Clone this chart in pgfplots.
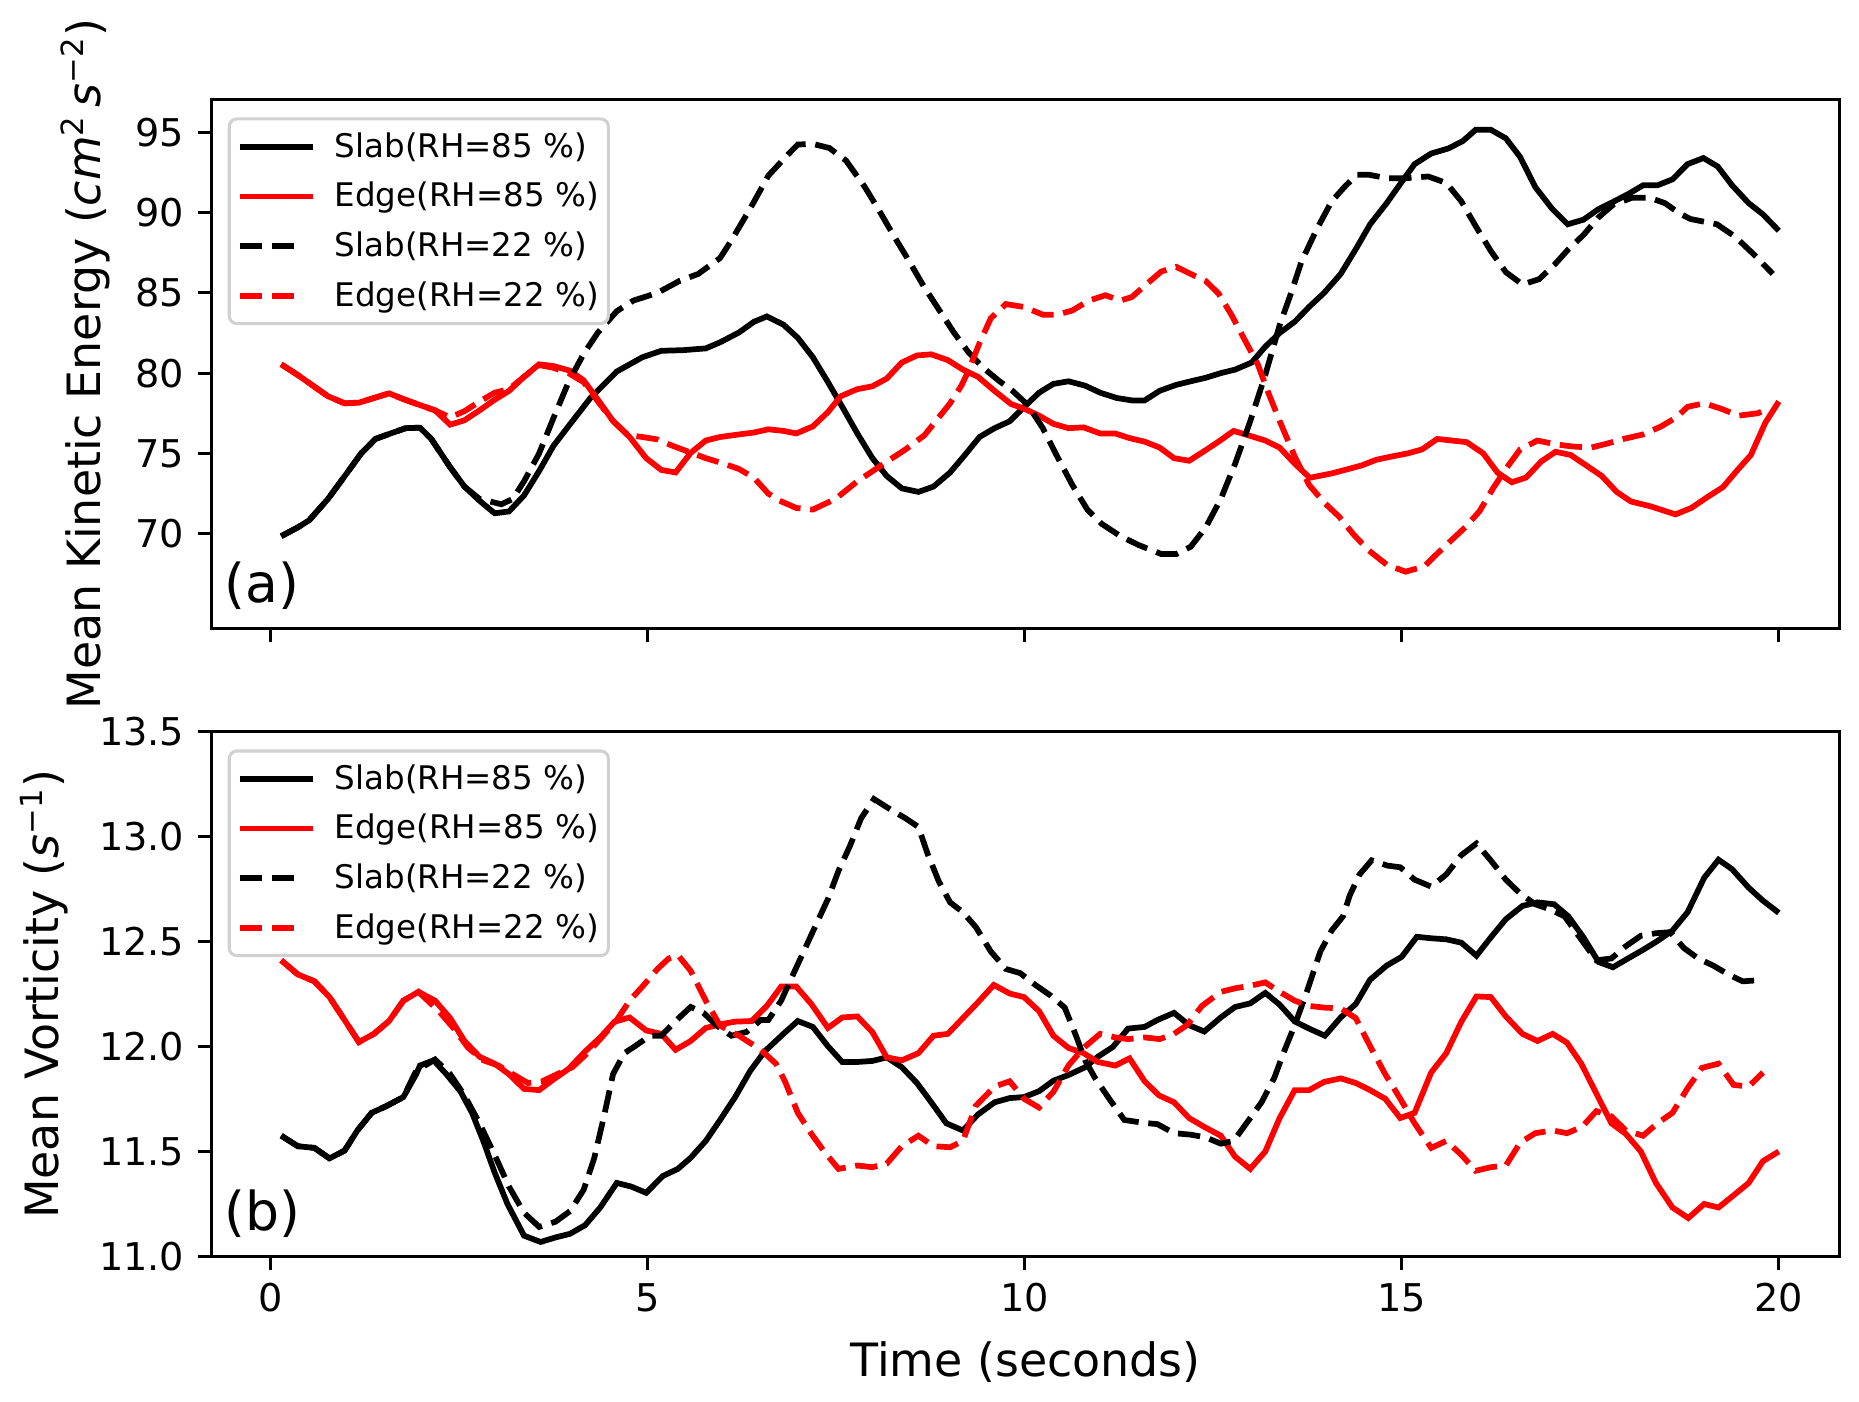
\documentclass[border=0pt]{standalone}
\usepackage{fontspec}
\setmainfont{DejaVu Sans}
\usepackage{pgfplots}
\pgfplotsset{compat=1.18}
\begin{document}
\begin{tikzpicture}
\pgfplotsset{
 common/.style={
  width=425.9pt, scale only axis,
  xmin=-0.79, xmax=20.81,
  xtick={0,5,10,15,20},
  tick align=outside, tick pos=left,
  major tick length=3.5pt,
  every tick/.style={black, line width=0.8pt},
  axis line style={line width=0.8pt},
  tick label style={font=\fontsize{10}{12}\selectfont},
  /pgf/number format/assume math mode=true,
  legend cell align=left,
  legend style={at={(axis description cs:0.0102,0.966)}, anchor=north west, draw=black!18, line width=0.8pt, rounded corners=2pt, fill=white, fill opacity=0.8, text opacity=1, font=\fontsize{8.5}{10}\selectfont, row sep=2.5pt, inner xsep=2pt, inner ysep=2pt,
   nodes={inner xsep=0.5pt, inner ysep=1pt, text height=7pt, text depth=1.5pt}},
  legend image code/.code={\draw[##1] (0pt,0pt) -- (19.1pt,0pt); \path (23.6pt,0pt);},
 },
 lw/.style={line width=1.5pt},
 dsh/.style={line width=1.5pt, dash pattern=on 5.85pt off 2.53pt,
   legend image code/.code={\draw[##1] (0pt,0pt) -- (14.5pt,0pt); \path (23.6pt,0pt);}},
}
\begin{axis}[common, name=top, height=138.3pt, ymin=64.1, ymax=97.05, ytick={70,75,80,85,90,95}, xticklabels={},
 ylabel={Mean Kinetic Energy ({\itshape cm}\textsuperscript{2}\,{\itshape s}\textsuperscript{−2})},
 every axis y label/.style={at={(axis description cs:-0.0771,0.5)}, rotate=90, anchor=center, font=\fontsize{12}{14}\selectfont}]
\addplot[black, lw] coordinates {(0.14,69.84)(0.36,70.39)(0.51,70.83)(0.76,72.16)(1.0,73.7)(1.2,75.0)(1.39,75.9)(1.59,76.24)(1.79,76.57)(1.98,76.6)(2.13,75.9)(2.38,74.14)(2.57,72.93)(2.77,72.05)(2.97,71.27)(3.16,71.38)(3.36,72.38)(3.56,73.9)(3.75,75.47)(4.0,77.0)(4.24,78.45)(4.59,80.1)(4.93,80.99)(5.18,81.39)(5.47,81.43)(5.77,81.54)(5.96,81.92)(6.21,82.53)(6.41,83.2)(6.58,83.53)(6.8,83.02)(6.99,82.2)(7.19,80.99)(7.39,79.44)(7.58,77.9)(7.78,76.24)(7.98,74.7)(8.17,73.59)(8.37,72.82)(8.59,72.6)(8.79,72.93)(9.01,73.81)(9.21,74.92)(9.4,76.02)(9.6,76.57)(9.8,77.0)(9.97,77.79)(10.19,78.78)(10.38,79.33)(10.58,79.49)(10.8,79.22)(11.0,78.78)(11.22,78.45)(11.42,78.3)(11.59,78.3)(11.79,78.9)(12.01,79.27)(12.2,79.49)(12.4,79.71)(12.6,80.0)(12.79,80.22)(13.01,80.66)(13.19,81.65)(13.38,82.5)(13.58,83.2)(13.77,84.12)(13.97,85.0)(14.19,86.18)(14.39,87.72)(14.58,89.27)(14.8,90.59)(15.0,91.92)(15.17,93.02)(15.39,93.68)(15.62,94.0)(15.81,94.46)(15.98,95.16)(16.18,95.16)(16.38,94.63)(16.57,93.46)(16.77,91.59)(16.99,90.26)(17.2,89.27)(17.41,89.56)(17.61,90.22)(17.8,90.66)(18.0,91.15)(18.2,91.7)(18.39,91.7)(18.59,92.07)(18.79,93.02)(19.0,93.4)(19.19,92.87)(19.38,91.7)(19.6,90.59)(19.79,89.89)(20.0,88.87)};
\addlegendentry{Slab(RH=85 \%)}
\addplot[red, lw] coordinates {(0.14,80.55)(0.36,79.88)(0.56,79.22)(0.76,78.56)(0.98,78.12)(1.17,78.16)(1.37,78.45)(1.57,78.74)(1.76,78.38)(1.98,78.01)(2.18,77.68)(2.38,76.79)(2.57,77.06)(2.77,77.68)(2.97,78.34)(3.16,78.89)(3.36,79.77)(3.56,80.55)(3.75,80.44)(3.97,80.15)(4.15,79.55)(4.34,78.34)(4.54,77.02)(4.76,76.02)(4.98,74.7)(5.18,73.97)(5.37,73.81)(5.57,75.03)(5.77,75.8)(5.96,76.02)(6.21,76.18)(6.41,76.3)(6.6,76.5)(6.8,76.4)(6.97,76.24)(7.19,76.68)(7.39,77.57)(7.56,78.56)(7.78,79.0)(7.98,79.18)(8.17,79.66)(8.37,80.66)(8.57,81.1)(8.76,81.17)(8.98,80.81)(9.18,80.22)(9.38,79.77)(9.6,78.89)(9.82,78.07)(9.99,77.79)(10.19,77.35)(10.38,76.84)(10.58,76.57)(10.78,76.62)(11.0,76.24)(11.2,76.24)(11.39,75.95)(11.59,75.73)(11.79,75.36)(11.98,74.7)(12.18,74.54)(12.38,75.14)(12.57,75.73)(12.77,76.4)(12.99,76.09)(13.19,75.8)(13.38,75.36)(13.58,74.36)(13.78,73.48)(14.07,73.75)(14.27,74.0)(14.47,74.25)(14.66,74.6)(14.86,74.8)(15.08,75.0)(15.27,75.25)(15.47,75.9)(15.86,75.7)(16.08,75.0)(16.27,73.8)(16.46,73.2)(16.65,73.5)(16.85,74.5)(17.04,75.1)(17.24,74.9)(17.43,74.3)(17.65,73.6)(17.85,72.6)(18.04,72.0)(18.3,71.7)(18.63,71.2)(18.84,71.6)(19.06,72.3)(19.26,72.9)(19.44,73.9)(19.63,74.9)(19.82,76.9)(20.0,78.23)};
\addlegendentry{Edge(RH=85 \%)}
\addplot[black, dsh] coordinates {(0.14,69.84)(0.36,70.39)(0.51,70.83)(0.76,72.16)(1.0,73.7)(1.2,75.0)(1.39,75.9)(1.59,76.24)(1.79,76.57)(1.98,76.6)(2.13,75.9)(2.38,74.14)(2.57,72.93)(2.77,72.16)(3.06,71.83)(3.21,72.16)(3.36,73.26)(3.56,75.0)(3.75,77.2)(3.95,79.44)(4.15,81.2)(4.34,82.53)(4.59,83.86)(4.81,84.52)(5.13,85.0)(5.42,85.74)(5.67,86.18)(5.96,87.17)(6.11,88.27)(6.36,90.26)(6.6,92.3)(6.85,93.57)(6.99,94.24)(7.19,94.28)(7.41,94.02)(7.63,93.24)(7.88,91.59)(8.08,90.04)(8.27,88.5)(8.47,86.95)(8.66,85.41)(8.86,83.97)(9.06,82.53)(9.25,81.32)(9.45,80.33)(9.65,79.55)(9.84,78.89)(10.04,78.01)(10.24,76.57)(10.43,74.81)(10.63,73.04)(10.83,71.5)(11.02,70.61)(11.27,69.84)(11.51,69.29)(11.81,68.73)(12.01,68.73)(12.2,69.18)(12.4,70.39)(12.6,72.16)(12.79,74.36)(12.99,77.0)(13.19,79.89)(13.38,82.98)(13.53,84.96)(13.67,86.95)(13.87,88.94)(14.07,90.7)(14.26,91.7)(14.41,92.36)(14.56,92.36)(14.81,92.14)(15.05,92.14)(15.35,92.25)(15.59,91.85)(15.79,90.7)(15.98,89.16)(16.18,87.61)(16.38,86.29)(16.6,85.52)(16.82,85.85)(17.02,86.73)(17.21,87.72)(17.41,88.61)(17.61,89.71)(17.8,90.48)(18.05,90.92)(18.29,90.92)(18.49,90.59)(18.69,89.93)(18.83,89.6)(19.18,89.27)(19.42,88.5)(19.67,87.39)(19.92,86.18)};
\addlegendentry{Slab(RH=22 \%)}
\addplot[red, dsh] coordinates {(0.14,80.55)(0.36,79.88)(0.56,79.22)(0.76,78.56)(0.98,78.12)(1.17,78.16)(1.37,78.45)(1.57,78.74)(1.76,78.38)(1.98,78.01)(2.18,77.68)(2.38,77.24)(2.57,77.63)(2.77,78.23)(2.97,78.78)(3.16,79.0)(3.36,79.77)(3.56,80.5)(3.75,80.33)(3.95,80.0)(4.15,79.44)(4.34,78.23)(4.54,77.02)(4.74,76.13)(4.93,76.02)(5.13,75.87)(5.33,75.47)(5.52,75.14)(5.77,74.7)(6.01,74.36)(6.21,74.03)(6.41,73.48)(6.6,72.49)(6.75,72.05)(6.97,71.6)(7.19,71.5)(7.49,72.16)(7.78,73.26)(8.17,74.48)(8.42,75.25)(8.67,76.13)(8.86,77.24)(9.01,78.12)(9.16,79.22)(9.25,80.11)(9.4,81.87)(9.55,83.42)(9.75,84.3)(9.99,84.12)(10.24,83.64)(10.43,83.64)(10.63,83.9)(10.85,84.52)(11.07,84.85)(11.27,84.52)(11.42,84.74)(11.61,85.52)(11.81,86.33)(12.01,86.62)(12.2,86.18)(12.4,85.74)(12.57,84.96)(12.74,83.64)(12.89,82.31)(13.09,80.55)(13.23,78.78)(13.38,77.02)(13.58,74.81)(13.77,73.04)(13.97,71.94)(14.17,71.05)(14.36,69.95)(14.56,68.96)(14.8,68.07)(15.05,67.63)(15.3,67.96)(15.44,68.62)(15.64,69.51)(15.84,70.39)(16.03,71.39)(16.21,72.82)(16.38,74.03)(16.57,75.25)(16.8,75.8)(17.02,75.58)(17.26,75.43)(17.51,75.36)(17.7,75.58)(17.95,75.91)(18.2,76.18)(18.44,76.68)(18.64,77.24)(18.79,77.9)(19.01,78.12)(19.23,77.79)(19.47,77.35)(19.72,77.5)(19.87,77.79)};
\addlegendentry{Edge(RH=22 \%)}
\node[anchor=south west, inner sep=0pt, font=\fontsize{14}{16}\selectfont] at (rel axis cs:0.008,0.035) {(a)};
\coordinate (TL) at (rel axis cs:0,1);
\end{axis}
\begin{axis}[common, name=bot, at={(top.south west)}, anchor=north west, yshift=-27pt, height=137.3pt, ymin=11.0, ymax=13.5, ytick={11.0,11.5,12.0,12.5,13.0,13.5},
 yticklabel style={/pgf/number format/.cd, fixed, fixed zerofill, precision=1},
 xlabel={Time (seconds)},
 every axis x label/.style={at={(axis description cs:0.5,0)}, anchor=north, inner sep=0pt, yshift=-22pt, font=\fontsize{12}{14}\selectfont},
 ylabel={Mean Vorticity ({\itshape s}\textsuperscript{−1})},
 every axis y label/.style={at={(axis description cs:-0.1026,0.5)}, rotate=90, anchor=center, font=\fontsize{12}{14}\selectfont}]
\addplot[black, lw] coordinates {(0.14,11.576)(0.36,11.526)(0.58,11.518)(0.78,11.468)(0.98,11.505)(1.15,11.601)(1.34,11.685)(1.54,11.718)(1.76,11.76)(1.93,11.869)(1.98,11.91)(2.16,11.935)(2.33,11.869)(2.52,11.785)(2.67,11.685)(2.82,11.551)(2.97,11.401)(3.14,11.251)(3.36,11.1)(3.58,11.07)(3.78,11.092)(3.97,11.109)(4.17,11.15)(4.37,11.234)(4.59,11.351)(4.78,11.334)(4.98,11.304)(5.2,11.384)(5.4,11.418)(5.57,11.471)(5.77,11.551)(5.96,11.651)(6.16,11.76)(6.36,11.885)(6.55,11.977)(6.8,12.061)(6.99,12.122)(7.19,12.094)(7.39,12.002)(7.58,11.927)(7.78,11.927)(7.98,11.932)(8.17,11.949)(8.37,11.902)(8.57,11.827)(8.76,11.735)(8.96,11.635)(9.18,11.601)(9.38,11.677)(9.6,11.735)(9.8,11.755)(9.99,11.76)(10.19,11.788)(10.38,11.838)(10.58,11.865)(10.8,11.902)(10.97,11.952)(11.17,11.999)(11.37,12.086)(11.59,12.094)(11.76,12.127)(11.98,12.161)(12.18,12.102)(12.38,12.072)(12.6,12.139)(12.79,12.189)(12.99,12.206)(13.19,12.256)(13.38,12.2)(13.58,12.12)(13.77,12.086)(13.98,12.052)(14.19,12.139)(14.39,12.203)(14.58,12.319)(14.8,12.386)(15.0,12.428)(15.2,12.523)(15.39,12.516)(15.59,12.511)(15.79,12.495)(15.99,12.433)(16.18,12.52)(16.38,12.607)(16.6,12.67)(16.8,12.687)(17.02,12.678)(17.21,12.62)(17.41,12.52)(17.61,12.403)(17.8,12.378)(18.0,12.42)(18.2,12.461)(18.39,12.503)(18.59,12.553)(18.79,12.64)(19.01,12.804)(19.2,12.89)(19.38,12.845)(19.6,12.757)(19.79,12.695)(20.0,12.637)};
\addlegendentry{Slab(RH=85 \%)}
\addplot[red, lw] coordinates {(0.14,12.411)(0.36,12.344)(0.58,12.311)(0.78,12.236)(0.98,12.127)(1.17,12.022)(1.37,12.061)(1.57,12.122)(1.76,12.219)(1.96,12.261)(2.18,12.219)(2.38,12.136)(2.57,12.027)(2.77,11.952)(2.97,11.919)(3.16,11.869)(3.36,11.799)(3.56,11.793)(3.75,11.844)(3.95,11.894)(4.17,11.977)(4.37,12.044)(4.56,12.119)(4.76,12.139)(4.98,12.077)(5.18,12.061)(5.37,11.985)(5.57,12.027)(5.77,12.089)(5.96,12.106)(6.16,12.119)(6.38,12.122)(6.58,12.194)(6.77,12.286)(6.97,12.286)(7.17,12.203)(7.39,12.089)(7.58,12.139)(7.78,12.144)(7.98,12.069)(8.17,11.949)(8.37,11.935)(8.59,11.969)(8.79,12.052)(8.98,12.061)(9.18,12.136)(9.38,12.211)(9.59,12.294)(9.8,12.253)(9.99,12.236)(10.19,12.169)(10.38,12.052)(10.58,11.994)(10.78,11.969)(10.97,11.927)(11.2,11.91)(11.39,11.944)(11.59,11.835)(11.78,11.768)(11.98,11.735)(12.18,11.66)(12.38,11.618)(12.6,11.576)(12.79,11.476)(12.99,11.418)(13.19,11.501)(13.38,11.66)(13.58,11.793)(13.77,11.793)(13.97,11.832)(14.19,11.849)(14.39,11.827)(14.58,11.793)(14.78,11.752)(14.98,11.66)(15.17,11.685)(15.39,11.877)(15.59,11.969)(15.79,12.119)(15.99,12.239)(16.18,12.236)(16.38,12.144)(16.6,12.061)(16.8,12.027)(17.0,12.061)(17.19,12.019)(17.38,11.919)(17.58,11.777)(17.78,11.635)(17.97,11.585)(18.17,11.501)(18.37,11.351)(18.59,11.234)(18.8,11.184)(19.01,11.251)(19.2,11.234)(19.4,11.292)(19.6,11.351)(19.79,11.455)(20.0,11.501)};
\addlegendentry{Edge(RH=85 \%)}
\addplot[black, dsh] coordinates {(0.14,11.576)(0.36,11.526)(0.58,11.518)(0.78,11.468)(0.98,11.505)(1.15,11.601)(1.34,11.685)(1.54,11.718)(1.76,11.76)(1.93,11.885)(2.18,11.939)(2.38,11.869)(2.57,11.768)(2.77,11.635)(2.97,11.485)(3.16,11.334)(3.36,11.209)(3.56,11.142)(3.78,11.167)(3.97,11.217)(4.15,11.318)(4.29,11.468)(4.42,11.668)(4.54,11.869)(4.69,11.969)(4.83,12.002)(5.03,12.052)(5.18,12.052)(5.37,12.122)(5.57,12.189)(5.74,12.161)(5.91,12.102)(6.11,12.052)(6.31,12.07)(6.5,12.127)(6.6,12.127)(6.77,12.219)(6.94,12.353)(7.09,12.47)(7.24,12.587)(7.39,12.703)(7.53,12.837)(7.68,12.954)(7.83,13.087)(8.0,13.179)(8.22,13.129)(8.42,13.087)(8.59,13.046)(8.71,12.92)(8.86,12.787)(9.01,12.687)(9.18,12.64)(9.35,12.57)(9.55,12.453)(9.75,12.37)(9.94,12.35)(10.14,12.294)(10.34,12.244)(10.53,12.186)(10.68,12.052)(10.8,11.935)(10.93,11.852)(11.12,11.752)(11.32,11.651)(11.56,11.638)(11.76,11.631)(11.98,11.588)(12.2,11.581)(12.4,11.568)(12.6,11.538)(12.77,11.551)(12.94,11.635)(13.14,11.735)(13.31,11.852)(13.43,11.969)(13.58,12.102)(13.73,12.25)(13.92,12.453)(14.07,12.553)(14.22,12.62)(14.31,12.72)(14.44,12.82)(14.6,12.887)(14.81,12.862)(14.98,12.854)(15.17,12.795)(15.39,12.762)(15.59,12.82)(15.79,12.912)(15.99,12.967)(16.18,12.887)(16.38,12.795)(16.57,12.729)(16.77,12.678)(16.97,12.653)(17.16,12.62)(17.36,12.52)(17.58,12.411)(17.78,12.42)(17.97,12.478)(18.17,12.528)(18.37,12.54)(18.56,12.545)(18.74,12.47)(18.93,12.42)(19.13,12.386)(19.33,12.344)(19.52,12.311)(19.72,12.316)};
\addlegendentry{Slab(RH=22 \%)}
\addplot[red, dsh] coordinates {(0.14,12.411)(0.36,12.344)(0.58,12.311)(0.78,12.236)(0.98,12.127)(1.17,12.022)(1.37,12.061)(1.57,12.122)(1.76,12.219)(1.96,12.261)(2.23,12.169)(2.43,12.086)(2.62,11.994)(2.82,11.935)(3.02,11.91)(3.21,11.869)(3.41,11.827)(3.6,11.835)(3.8,11.869)(4.0,11.902)(4.2,11.969)(4.39,12.044)(4.59,12.127)(4.76,12.219)(4.93,12.286)(5.13,12.37)(5.28,12.42)(5.4,12.436)(5.57,12.361)(5.77,12.219)(5.96,12.1)(6.21,12.052)(6.5,11.985)(6.7,11.919)(6.82,11.835)(6.99,11.685)(7.17,11.585)(7.34,11.501)(7.53,11.418)(7.78,11.434)(7.98,11.426)(8.17,11.443)(8.37,11.526)(8.59,11.576)(8.79,11.526)(9.01,11.521)(9.18,11.551)(9.35,11.718)(9.6,11.81)(9.8,11.835)(9.99,11.752)(10.19,11.71)(10.38,11.785)(10.58,11.91)(10.78,11.994)(11.0,12.061)(11.2,12.044)(11.37,12.036)(11.59,12.044)(11.79,12.036)(11.98,12.061)(12.15,12.102)(12.35,12.194)(12.6,12.261)(12.79,12.278)(12.99,12.29)(13.19,12.306)(13.38,12.261)(13.58,12.219)(13.77,12.194)(13.97,12.186)(14.19,12.182)(14.39,12.136)(14.58,12.002)(14.78,11.869)(14.98,11.752)(15.17,11.635)(15.39,11.518)(15.59,11.551)(15.79,11.485)(15.98,11.409)(16.18,11.426)(16.38,11.434)(16.57,11.543)(16.77,11.588)(17.0,11.601)(17.19,11.588)(17.39,11.618)(17.58,11.693)(17.78,11.668)(17.97,11.601)(18.2,11.576)(18.39,11.635)(18.59,11.685)(18.79,11.802)(18.98,11.899)(19.2,11.919)(19.4,11.818)(19.6,11.81)(19.79,11.877)};
\addlegendentry{Edge(RH=22 \%)}
\node[anchor=south west, inner sep=0pt, font=\fontsize{14}{16}\selectfont] at (rel axis cs:0.008,0.035) {(b)};
\coordinate (BR) at (rel axis cs:1,0);
\end{axis}
\pgfresetboundingbox
\path[use as bounding box] ([shift={(-55.2pt,26pt)}]TL) rectangle ([shift={(5pt,-37.8pt)}]BR);
\end{tikzpicture}
\end{document}
